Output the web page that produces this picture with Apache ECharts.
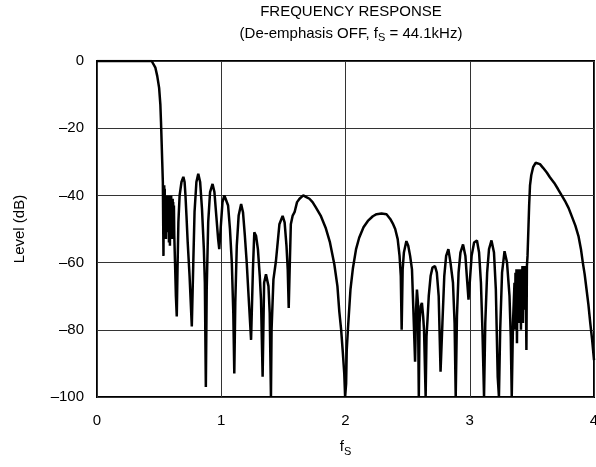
<!DOCTYPE html>
<html>
<head>
<meta charset="utf-8">
<script src="https://cdn.jsdelivr.net/npm/echarts@6/dist/echarts.min.js"></script>
<style>
html,body{margin:0;padding:0;background:#fff;}
#c{width:596px;height:467px;}
</style>
</head>
<body>
<div id="c"></div>
<script>
// Frequency (multiples of fS)
var freq = [
0,0.1,0.2,0.3,0.4,0.44,0.455,0.47,0.485,0.5,0.51,0.515,0.52,0.525,0.53,
0.533,0.535,0.537,0.539,0.541,0.543,0.545,0.547,0.549,0.551,0.553,0.555,0.557,0.559,0.561,0.563,0.565,0.567,0.569,0.571,
0.573,0.575,0.577,0.579,0.581,0.583,0.585,0.587,0.589,0.591,0.593,0.595,0.597,0.599,0.601,0.603,0.605,0.607,0.609,0.611,0.613,0.616,0.619,0.622,
0.628,0.635,0.642,0.648,0.655,0.665,0.68,0.695,0.705,0.712,0.72,0.73,0.745,0.763,0.775,0.785,0.8,0.815,0.83,0.845,0.86,0.868,0.876,0.883,0.895,0.91,0.93,0.945,0.96,0.975,0.984,0.995,1.01,1.025,1.035,1.045,1.055,1.07,1.085,1.097,1.105,1.113,1.125,1.14,1.16,1.175,1.19,1.205,1.22,1.24,1.255,1.266,1.28,1.295,1.31,1.32,1.333,1.345,1.36,1.37,1.38,1.39,1.40,1.405,1.42,1.44,1.468,1.494,1.51,1.525,1.535,1.543,1.552,1.56,1.575,1.59,1.61,1.63,1.66,1.685,1.71,1.735,1.76,1.8,1.84,1.875,1.91,1.935,1.95,1.965,1.978,1.99,1.997,2.005,2.01,2.02,2.04,2.06,2.085,2.11,2.145,2.18,2.22,2.25,2.29,2.33,2.36,2.38,2.40,2.42,2.435,2.445,2.452,2.46,2.47,2.49,2.505,2.52,2.535,2.548,2.56,2.568,2.575,2.583,2.59,2.596,2.605,2.615,2.625,2.632,2.645,2.652,2.66,2.67,2.685,2.7,2.72,2.735,2.75,2.765,2.78,2.795,2.81,2.828,2.845,2.865,2.878,2.887,2.897,2.91,2.925,2.946,2.965,2.98,2.99,3.0,3.015,3.035,3.058,3.075,3.09,3.102,3.115,3.125,3.14,3.155,3.175,3.195,3.21,3.225,3.235,3.245,3.26,3.28,3.3,3.32,3.33,3.338,3.348,
3.36,3.364,3.368,3.372,3.376,3.38,3.384,3.388,3.392,3.396,3.40,3.404,3.408,3.412,3.416,3.42,3.424,3.428,3.432,3.436,3.44,3.444,3.448,3.452,3.456,3.46,
3.465,3.472,3.478,3.485,3.495,3.51,3.53,3.546,3.565,3.59,3.62,3.645,3.68,3.71,3.74,3.766,3.795,3.82,3.85,3.875,3.895,3.91,3.925,3.94,3.955,3.97,3.985,4.0
];
// Level (dB)
var level = [
0,0,0,0,0,0,-0.5,-2,-4.5,-8,-13,-18,-24,-30,-36,
-36,-58,-37,-50,-37,-47,-38,-52,-40,-46,-40,-53,-40,-45,-40,-50,-40,-47,-40,-51,
-40,-46,-40,-54,-40,-47,-40,-55,-41,-48,-40,-52,-40,-46,-41,-53,-41,-48,-41,-50,-42,-48,-43,-52,
-60,-70,-76,-62,-48,-40,-36,-34.5,-36,-40,-46,-54,-64,-79,-60,-45,-36,-33.6,-36,-44,-56,-66,-97,-68,-48,-39,-36.6,-39,-46,-53,-56,-50,-42,-40,-41,-40.5,-43,-50,-60,-75,-93,-72,-55,-46,-42.6,-45,-52,-60,-70,-83,-62,-51,-52,-56,-64,-71,-94,-66,-63.5,-64,-67,-75,-100,-80,-65,-59.6,-48.6,-46.1,-48,-55,-62,-73.5,-60,-48.6,-46,-45,-42,-41,-40,-40.5,-41,-42,-43.5,-46,-49.6,-54,-60.5,-67,-74.5,-80,-86.5,-93,-100,-96,-86,-79.5,-68,-61.6,-56,-52.6,-49.5,-47.6,-46.2,-45.6,-45.4,-45.6,-47,-48.3,-50,-53,-58,-64,-80,-62,-57,-53.6,-55,-58,-62,-76,-89.5,-74,-68,-72,-100,-78,-73,-72,-76,-80,-100,-82,-77,-70,-64,-61.5,-61,-63,-70,-92.5,-78,-64,-58,-56,-60,-66,-78,-100,-76,-63,-57,-54.6,-58,-66,-71,-66,-58,-54,-53.4,-57,-66,-80,-100,-78,-63,-56,-53.4,-57,-68,-94,-100,-80,-63,-56.6,-60,-70,-82,-100,-78,
-66,-80,-63,-74,-62,-84,-63,-72,-62,-78,-62,-70,-62,-80,-62,-72,-61,-78,-62,-70,-61,-74,-61,-70,-86,-61,
-58,-50,-43,-37,-34,-31.6,-30.3,-30,-30.7,-31.8,-33.2,-34.6,-36.3,-38.1,-40,-41.6,-43.7,-46.1,-49,-52.1,-56,-60,-63.5,-68,-72.5,-78,-83,-89
];
var xTicks = [0, 1, 2, 3, 4];
var yTicks = [0, -20, -40, -60, -80, -100];
var titleLine1 = 'FREQUENCY RESPONSE';
var titleLine2a = '(De-emphasis OFF, f';
var titleSub = 'S';
var titleLine2b = ' = 44.1kHz)';

var FONT = 'Liberation Sans, Arial, Helvetica, sans-serif';
var FS = 15;
var data = freq.map(function (f, i) { return [f, level[i]]; });

var chart = echarts.init(document.getElementById('c'), null, {renderer: 'canvas'});
chart.setOption({
  animation: false,
  backgroundColor: '#fff',
  title: {
    text: '{a|' + titleLine1 + '}\n{a|' + titleLine2a + '}{s|' + titleSub + '}{a|' + titleLine2b + '}',
    left: 346, top: -4, textAlign: 'center',
    textStyle: {
      fontWeight: 'normal',
      rich: {
        a: {fontFamily: FONT, fontSize: FS, fontWeight: 'normal', color: '#000', lineHeight: 22},
        s: {fontFamily: FONT, fontSize: 11, fontWeight: 'normal', color: '#000', lineHeight: 22, padding: [8, 0, 0, 0]}
      }
    }
  },
  grid: {left: 97, right: 2, top: 61, bottom: 70, show: true, borderColor: '#000', borderWidth: 2,
    backgroundColor: 'transparent', containLabel: false, outerBoundsMode: 'none'},
  xAxis: {
    type: 'value', min: 0, max: 4, interval: 1,
    axisLine: {show: false}, axisTick: {show: false},
    splitLine: {show: true, lineStyle: {color: '#333', width: 1}},
    axisLabel: {fontFamily: FONT, fontSize: FS, color: '#000', margin: 16,
      formatter: function (v) { return xTicks.indexOf(v) >= 0 ? String(v) : ''; }},
    name: '{a|f}{s|S}', nameLocation: 'middle', nameGap: 40,
    nameTextStyle: {rich: {
      a: {fontFamily: FONT, fontSize: FS, color: '#000', lineHeight: 20},
      s: {fontFamily: FONT, fontSize: 11, color: '#000', lineHeight: 20, padding: [9, 0, 0, 0]}
    }}
  },
  yAxis: {
    type: 'value', min: -100, max: 0, interval: 20,
    axisLine: {show: false}, axisTick: {show: false},
    splitLine: {show: true, lineStyle: {color: '#333', width: 1}},
    axisLabel: {fontFamily: FONT, fontSize: FS, color: '#000', margin: 13,
      formatter: function (v) { return yTicks.indexOf(v) >= 0 ? String(v).replace('-', '\u2013') : ''; }},
    name: 'Level (dB)', nameLocation: 'middle', nameGap: 70, nameRotate: 90,
    nameTextStyle: {fontFamily: FONT, fontSize: FS, color: '#000'}
  },
  series: [{
    type: 'line', data: data, showSymbol: false, symbol: 'none', clip: true,
    lineStyle: {color: '#000', width: 2.5}
  }]
});
</script>
</body>
</html>
